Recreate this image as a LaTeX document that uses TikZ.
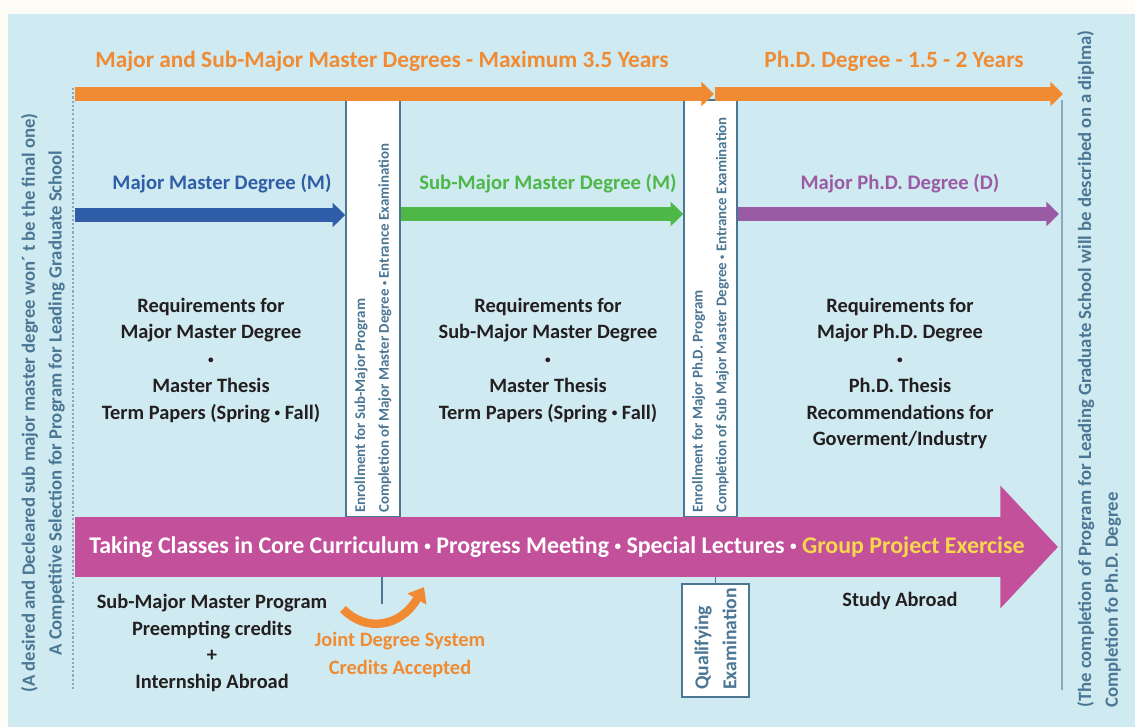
\documentclass[tikz,border=0pt]{standalone}
\usepackage{fontspec}
\setmainfont{Carlito}
\usetikzlibrary{arrows.meta}
\definecolor{bgblue}{HTML}{CFEAF0}
\definecolor{paper}{HTML}{FDFCF6}
\definecolor{orangeband}{HTML}{F08B33}
\definecolor{majorblue}{HTML}{2F5DA8}
\definecolor{subgreen}{HTML}{4DB748}
\definecolor{phdpurple}{HTML}{9A5BA5}
\definecolor{coremagenta}{HTML}{C3509B}
\definecolor{projyellow}{HTML}{F7D74B}
\definecolor{steel}{HTML}{4B7794}
\definecolor{railgrey}{HTML}{8FA8B8}
\definecolor{inkblack}{HTML}{231F20}
\newcommand{\midbullet}{\raisebox{0.25ex}{\scalebox{0.55}{•}}}
\begin{document}
\begin{tikzpicture}[
    x=0.025cm, y=-0.025cm,
    period/.style={text=orangeband, font=\fontsize{16.6}{20}\selectfont\bfseries},
    degree/.style={font=\fontsize{14.7}{18}\selectfont\bfseries},
    req/.style={align=center, text=inkblack, font=\fontsize{14.5}{19}\selectfont\bfseries},
    gate/.style={draw=steel, line width=1.1pt, fill=white, inner sep=0pt},
    gatetext/.style={rotate=90, anchor=west, align=left, inner sep=0pt, text=steel,
      font=\fontsize{10.6}{17}\selectfont\bfseries},
    sidenote/.style={rotate=90, text=steel, inner sep=0pt,
      font=\fontsize{13.3}{19}\selectfont\bfseries},
    band/.style={line width=10pt, -{Triangle[length=9pt,width=17pt]}}
  ]
  \useasboundingbox (0,0) rectangle (1135,727);
  % background
  \fill[paper] (0,0) rectangle (1135,727);
  \fill[bgblue] (8,14) rectangle (1135,727);

  % side rails
  \coordinate (startTop) at (73,88);
  \coordinate (startBot) at (73,690);
  \coordinate (endTop) at (1062,100);
  \coordinate (endBot) at (1062,690);
  \draw[railgrey, line width=0.8pt, dash pattern=on 1.5pt off 1.5pt] (startTop) -- (startBot);
  \draw[railgrey, line width=1.4pt] (endTop) -- (endBot);

  % entrance gates
  \node[gate, minimum width=1.35cm, minimum height=10.425cm] (gateSub) at (373,308.5) {};
  \node[gate, minimum width=1.325cm, minimum height=10.425cm] (gatePhd) at (710.5,308.5) {};
  \node[gatetext] at (373,513) {Enrollment for Sub-Major Program\\
    Completion of Major Master Degree \midbullet\ Entrance Examination};
  \node[gatetext] at (710.5,513) {Enrollment for Major Ph.D. Program\\
    Completion of Sub Major Master Degree \midbullet\ Entrance Examination};

  % period arrows
  \coordinate (masterStart) at (75,94);
  \coordinate (masterEnd) at (714,94);
  \coordinate (phdStart) at (715,94);
  \coordinate (phdEnd) at (1063,94);
  \draw[band, orangeband] (masterStart) -- (masterEnd);
  \draw[band, orangeband] (phdStart) -- (phdEnd);
  \node[period] (masterYears) at (382,61) {Major and Sub-Major Master Degrees - Maximum 3.5 Years};
  \node[period] (phdYears) at (894,61) {Ph.D. Degree - 1.5 - 2 Years};

  % degree arrows
  \draw[band, majorblue] (masterStart |- 0,215) -- (gateSub.west |- 0,215);
  \draw[band, subgreen] (gateSub.east |- 0,214) -- (gatePhd.west |- 0,214);
  \draw[band, phdpurple] (gatePhd.east |- 0,214) -- (1059,214);
  \node[degree, text=majorblue] (majorM) at (222,184) {Major Master Degree (M)};
  \node[degree, text=subgreen] (subM) at (548,184) {Sub-Major Master Degree (M)};
  \node[degree, text=phdpurple] (majorD) at (900,184) {Major Ph.D. Degree (D)};

  % requirements
  \node[req, anchor=north] (reqM) at (211,293) {Requirements for\\Major Master Degree\\\midbullet\\Master Thesis\\Term Papers (Spring \midbullet\ Fall)};
  \node[req, anchor=north] (reqS) at (548,293) {Requirements for\\Sub-Major Master Degree\\\midbullet\\Master Thesis\\Term Papers (Spring \midbullet\ Fall)};
  \node[req, anchor=north] (reqD) at (900,293) {Requirements for\\Major Ph.D. Degree\\\midbullet\\Ph.D. Thesis\\Recommendations for\\Goverment/Industry};

  % core curriculum arrow
  \coordinate (coreStart) at (75,547);
  \coordinate (coreEnd) at (1058,547);
  \draw[coremagenta, line width=42.5pt, -{Triangle[length=41pt,width=85pt]}] (coreStart) -- (coreEnd);
  \node[text=white, font=\fontsize{17}{20}\selectfont\bfseries] (core) at (557,547)
    {Taking Classes in Core Curriculum \midbullet\ Progress Meeting \midbullet\ Special Lectures \midbullet\ \textcolor{projyellow}{Group Project Exercise}};

  % qualifying examination
  \node[gate, minimum width=1.675cm, minimum height=2.825cm] (qual) at (715.5,640.5) {};
  \node[gatetext, font=\fontsize{14}{20}\selectfont\bfseries] at (715.5,690) {Qualifying\\Examination};
  \draw[steel, line width=0.9pt] (qual.north) -- (qual.north |- 0,577);

  % joint degree
  \coordinate (jointTop) at (382,577);
  \coordinate (jointBot) at (382,604);
  \coordinate (jointTail) at (343,609);
  \coordinate (jointHead) at (424,587);
  \draw[steel, line width=0.9pt] (jointTop) -- (jointBot);
  \draw[orangeband, line width=6pt, -{Triangle[length=10pt,width=15pt]}]
    (jointTail) .. controls (365,632) and (400,628) .. (jointHead);
  \node[align=center, text=orangeband, font=\fontsize{14.5}{19.5}\selectfont\bfseries] (joint) at (400,655)
    {Joint Degree System\\Credits Accepted};
  \node[req] (preempt) at (212,643) {Sub-Major Master Program\\Preempting credits\\+\\Internship Abroad};
  \node[req] (abroad) at (900,601) {Study Abroad};

  % side notes
  \node[sidenote, align=center] (selection) at (43,403)
    {(A desired and Decleared sub major master degree won´ t be the final one)\\A Competitive Selection for Program for Leading Graduate School};
  \node[sidenote, anchor=north west, align=left] (completion) at (1077,708)
    {(The completion of Program for Leading Graduate School will be described on a diplma)\\Completion fo Ph.D. Degree};
\end{tikzpicture}
\end{document}
